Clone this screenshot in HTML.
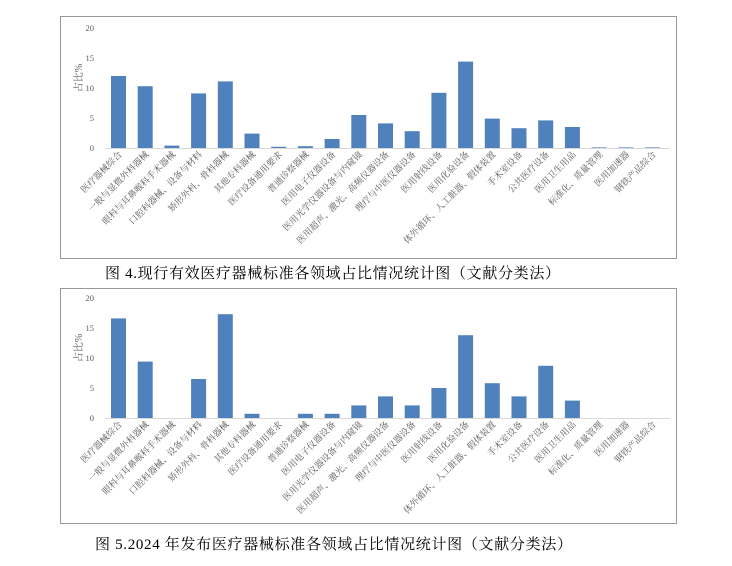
<!DOCTYPE html>
<html><head><meta charset="utf-8">
<style>
body{margin:0;background:#fff;width:732px;height:566px;overflow:hidden;font-family:"Liberation Serif","Noto Serif CJK SC",serif;}
svg{position:absolute;left:0;top:0}
</style></head>
<body>
<svg id="s" width="732" height="566"></svg>
<script>
const categories=["医疗器械综合","一般与显微外科器械","眼科与耳鼻喉科手术器械","口腔科器械、设备与材料","矫形外科、骨科器械","其他专科器械","医疗设备通用要求","普通诊察器械","医用电子仪器设备","医用光学仪器设备与内窥镜","医用超声、激光、高频仪器设备","理疗与中医仪器设备","医用射线设备","医用化验设备","体外循环、人工脏器、假体装置","手术室设备","公共医疗设备","医用卫生用品","标准化、质量管理","医用加速器","钢铁产品综合"];
const values1=[12,10.3,0.4,9.1,11.1,2.4,0.2,0.3,1.5,5.5,4.1,2.8,9.2,14.4,4.9,3.3,4.6,3.5,0.1,0.1,0.1];
const values2=[16.6,9.4,0,6.5,17.3,0.7,0,0.7,0.7,2.1,3.6,2.1,5,13.8,5.8,3.6,8.7,2.9,0,0,0];
const ticks=[0,5,10,15,20];
const NS="http://www.w3.org/2000/svg";
const svg=document.getElementById('s');
function mk(tag,attrs,parent){const e=document.createElementNS(NS,tag);for(const k in attrs)e.setAttribute(k,attrs[k]);(parent||svg).appendChild(e);return e;}
function chart(vals,top,bottom,y0,y20,caption,capX,capY,capW,name){
  const g=mk('g',{});
  
  
  const fr=mk('rect',{x:60.5,y:top+0.5,width:616,height:bottom-top,fill:'none',stroke:'#999','stroke-width':1},g);
  
  
  const yS=v=>y0-(v/20)*(y0-y20);
  const xS=i=>118.5+i*26.7;
  ticks.forEach(t=>{
    const tx=mk('text',{x:94,y:yS(t)+3,'text-anchor':'end','font-size':8.5,fill:'#595959'},g);
    tx.textContent=t;
    
    
  });
  const yt=mk('text',{transform:`translate(82,${(y0+y20)/2-10}) rotate(-90)`,'text-anchor':'middle','font-size':10,fill:'#595959'},g);
  yt.textContent='占比%';
  
  
  vals.forEach((v,i)=>{
    const h=y0-yS(v);
    const r=mk('rect',{x:xS(i)-7.5,y:yS(v),width:15,height:h,fill:'#4f81bd'},g);
    
    
  });
  const ax=mk('line',{x1:105,x2:670,y1:y0+0.5,y2:y0+0.5,stroke:'#d9d9d9','stroke-width':1},g);
  
  
  categories.forEach((c,i)=>{
    const t=mk('text',{transform:`translate(${xS(i)+4},${y0+7}) rotate(-45)`,'text-anchor':'end','font-size':9,fill:'#595959'},g);
    t.textContent=c;
    
    
  });
  const cp=mk('text',{x:capX,y:capY,'font-size':15,fill:'#000',textLength:capW,lengthAdjust:'spacing'},g);
  cp.textContent=caption;
  
  
}
chart(values1,16,258,148,28,'图 4.现行有效医疗器械标准各领域占比情况统计图（文献分类法）',105,278,455,'chart-current-standards');
chart(values2,288,523,418,298,'图 5.2024 年发布医疗器械标准各领域占比情况统计图（文献分类法）',95,549,477,'chart-2024-standards');
</script>
</body></html>
